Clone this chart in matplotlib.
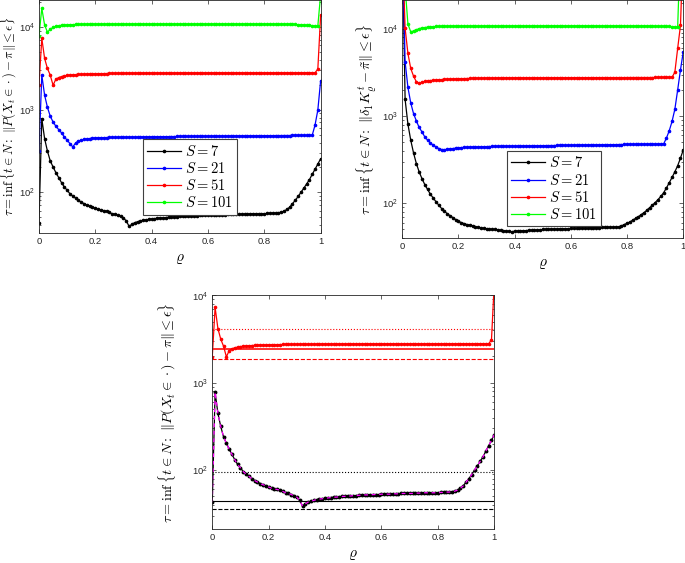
import numpy as np
import matplotlib
matplotlib.use('Agg')
import matplotlib.pyplot as plt
from matplotlib.ticker import LogLocator, NullFormatter

# ---------------- data ----------------
rho = np.linspace(0, 1, 101)
xticks = [0, 0.2, 0.4, 0.6, 0.8, 1]
xticklabels = ['0', '0.2', '0.4', '0.6', '0.8', '1']
labels = [r'$S=7$', r'$S=21$', r'$S=51$', r'$S=101$']
colors = ['#000000', '#0000ff', '#ff0000', '#00ff00']

# Top-left panel: tau for ||P(X_t in .) - pi|| <= eps
s7_a = [43, 780, 446, 316, 240, 203, 173, 151, 131, 116,
        106, 96, 90, 85, 80, 76, 73, 70, 68, 66,
        64, 62, 61, 60, 59, 57, 55, 54, 52.5, 51,
        49, 45, 38.7, 41, 43, 44, 45, 46, 46.5, 47,
        47.5, 48, 48.5, 49, 49, 49.5, 50, 50, 50.5, 50.5,
        51, 51, 51.5, 51.5, 52, 52, 52, 52.5, 52.5, 52.5,
        53, 53, 53, 53, 53.5, 53.5, 53.5, 54, 54, 54,
        54, 54, 54.5, 54.5, 54.5, 55, 55, 55, 55, 55,
        55, 55.5, 55.5, 56, 56, 56.5, 57.5, 59, 62, 66,
        73, 80, 89, 100, 112, 126, 142, 165, 190, 220,
        255]
s21_a = [315, 2620, 1500, 1070, 835, 711, 631, 575, 524, 468,
         427, 389, 354, 396, 417, 428, 436, 443, 448, 452,
         455, 457, 458, 459, 460, 461, 462, 462, 463, 463,
         464, 465, 465, 466, 466, 467, 467, 468, 468, 469,
         469, 470, 470, 471, 471, 472, 472, 473, 473, 474,
         474, 475, 475, 475, 476, 476, 476, 477, 477, 477,
         478, 478, 478, 479, 479, 479, 480, 480, 480, 481,
         481, 481, 482, 482, 482, 483, 483, 483, 484, 484,
         484, 485, 485, 485, 486, 486, 486, 487, 487, 487,
         488, 488, 488, 488, 488, 488, 489, 490, 650, 990,
         2250]
s51_a = [1980, 7300, 4170, 3160, 2620, 1980, 2340, 2450, 2520, 2560,
         2600, 2620, 2640, 2655, 2670, 2680, 2690, 2700, 2710, 2715,
         2720, 2725, 2730, 2735, 2740, 2745, 2750, 2750, 2755, 2755,
         2760, 2760, 2765, 2765, 2770, 2770, 2770, 2775, 2775, 2775,
         2780, 2780, 2780, 2780, 2780, 2780, 2780, 2780, 2780, 2780,
         2785, 2785, 2785, 2785, 2785, 2785, 2785, 2785, 2785, 2785,
         2790, 2790, 2790, 2790, 2790, 2790, 2790, 2790, 2790, 2790,
         2790, 2790, 2790, 2790, 2790, 2790, 2790, 2790, 2790, 2790,
         2795, 2795, 2795, 2795, 2795, 2795, 2795, 2795, 2795, 2795,
         2795, 2795, 2795, 2800, 2800, 2800, 2800, 2800, 2800, 3100,
         14000]
s101_a = [7800, 16900, 10600, 8700, 9400, 9900, 10200, 10400, 10500, 10600,
          10650, 10700, 10700, 10750, 10750, 10800, 10800, 10800, 10850, 10850,
          10850, 10850, 10850, 10850, 10850, 10850, 10850, 10850, 10850, 10850,
          10850, 10850, 10850, 10850, 10850, 10850, 10850, 10850, 10850, 10850,
          10850, 10850, 10850, 10850, 10850, 10850, 10850, 10850, 10850, 10850,
          10850, 10850, 10850, 10850, 10850, 10850, 10850, 10850, 10850, 10850,
          10850, 10850, 10850, 10850, 10850, 10850, 10850, 10850, 10850, 10850,
          10850, 10850, 10850, 10850, 10850, 10850, 10850, 10850, 10850, 10850,
          10850, 10850, 10850, 10850, 10850, 10850, 10850, 10850, 10850, 10850,
          10800, 10750, 10700, 10650, 10600, 10550, 10500, 10400, 10300, 10300,
          25000]

# Top-right panel: tau for ||delta_1 K^t - pi~|| <= eps
s7_b = [1e5, 1555, 810, 530, 378, 286, 229, 192, 164, 144,
        127, 115, 104, 95, 87, 81, 76, 72, 68.5, 65,
        62, 60, 58.5, 57, 56, 55, 54, 53, 52, 51.5,
        51, 50.5, 50, 50, 49.5, 49, 48.5, 48, 47.5, 47,
        48, 48, 48, 48.5, 48.5, 49, 49, 49, 49.5, 49.5,
        50, 50, 50, 50.5, 50.5, 50.5, 51, 51, 51, 51,
        51.5, 51.5, 51.5, 52, 52, 52, 52, 52.5, 52.5, 52.5,
        52.5, 53, 53, 53, 53, 53, 53.5, 53.5, 55, 57,
        59, 61, 64, 67, 70, 74, 78, 83, 89, 95,
        102, 110, 120, 132, 150, 172, 198, 230, 270, 330,
        410]
s21_b = [1e5, 4200, 2140, 1420, 1070, 883, 741, 661, 578, 530,
         493, 464, 444, 425, 414, 412, 417, 421, 425, 429,
         433, 436, 438, 440, 441, 442, 443, 444, 445, 446,
         447, 448, 449, 450, 450, 451, 451, 452, 452, 453,
         453, 454, 454, 455, 455, 456, 456, 457, 457, 458,
         458, 459, 459, 460, 460, 461, 461, 462, 462, 463,
         463, 464, 464, 465, 465, 466, 466, 467, 467, 468,
         468, 469, 469, 470, 470, 471, 471, 472, 472, 473,
         473, 474, 474, 475, 475, 476, 476, 477, 477, 478,
         478, 479, 479, 480, 560, 680, 870, 1200, 2000, 3400,
         5500]
s51_b = [1e5, 10200, 5250, 3530, 2880, 2480, 2375, 2450, 2500, 2530,
         2560, 2580, 2600, 2615, 2630, 2640, 2650, 2660, 2670, 2680,
         2690, 2695, 2700, 2705, 2710, 2715, 2720, 2725, 2730, 2730,
         2735, 2735, 2740, 2740, 2745, 2745, 2750, 2750, 2750, 2755,
         2755, 2755, 2755, 2755, 2755, 2755, 2755, 2755, 2755, 2755,
         2760, 2760, 2760, 2760, 2760, 2760, 2760, 2760, 2760, 2760,
         2765, 2765, 2765, 2765, 2765, 2765, 2765, 2765, 2765, 2765,
         2770, 2770, 2770, 2770, 2770, 2770, 2770, 2770, 2770, 2770,
         2775, 2775, 2775, 2775, 2775, 2775, 2775, 2775, 2775, 2775,
         2780, 2780, 2785, 2785, 2790, 2790, 2795, 3200, 6000, 11000,
         1e5]
s101_b = [1e5, 3e4, 11400, 9300, 9500, 9800, 10100, 10300, 10400, 10500,
          10600, 10650, 10700, 10700, 10750, 10750, 10750, 10800, 10800, 10800,
          10800, 10800, 10800, 10800, 10800, 10800, 10800, 10800, 10800, 10800,
          10820, 10820, 10820, 10820, 10820, 10820, 10820, 10820, 10820, 10820,
          10840, 10840, 10840, 10840, 10840, 10840, 10840, 10840, 10840, 10840,
          10850, 10850, 10850, 10850, 10850, 10850, 10850, 10850, 10850, 10850,
          10850, 10850, 10850, 10850, 10850, 10850, 10850, 10850, 10850, 10850,
          10850, 10850, 10850, 10850, 10850, 10850, 10850, 10850, 10850, 10850,
          10840, 10840, 10840, 10840, 10840, 10840, 10840, 10840, 10840, 10840,
          10800, 10800, 10750, 10750, 10700, 10700, 10650, 10600, 10500, 1e5,
          1e5]

# Bottom panel: bounds (dotted / solid / dashed) for S=7 (black) and S=51 (red)
bounds_black = [95, 44, 36]
bounds_red = [4140, 2440, 1870]
bound_styles = [':', '-', '--']

# ---------------- figure ----------------
plt.rcParams['mathtext.fontset'] = 'cm'
plt.rcParams['font.family'] = ['Liberation Sans', 'DejaVu Sans']

fig = plt.figure(figsize=(6.85, 5.63), dpi=100)
ax1 = fig.add_axes([0.0569, 0.5856, 0.4112, 0.4144])
ax2 = fig.add_axes([0.5873, 0.5767, 0.4102, 0.4233])
ax3 = fig.add_axes([0.3099, 0.0599, 0.4117, 0.4153])


def style(ax, ylim):
    ax.set_yscale('log')
    ax.set_xlim(0, 1)
    ax.set_ylim(*ylim)
    ax.set_xticks(xticks)
    ax.set_xticklabels(xticklabels)
    ax.yaxis.set_major_locator(LogLocator(base=10, numticks=10))
    ax.yaxis.set_minor_locator(LogLocator(base=10, subs=np.arange(2, 10), numticks=10))
    ax.yaxis.set_minor_formatter(NullFormatter())
    ax.tick_params(which='both', direction='in', top=True, right=True,
                   labelsize=6.8, pad=3, colors='#262626', width=0.5)
    ax.tick_params(which='major', length=3)
    ax.tick_params(which='minor', length=1.6)
    for sp in ax.spines.values():
        sp.set_linewidth(0.6)
        sp.set_color('#262626')
    ax.set_xlabel(r'$\varrho$', fontsize=11)


series_a = [s7_a, s21_a, s51_a, s101_a]
series_b = [s7_b, s21_b, s51_b, s101_b]

for ax, series in ((ax1, series_a), (ax2, series_b)):
    for vals, c, lab in zip(series, colors, labels):
        ax.plot(rho, vals, '-', color=c, lw=0.9, marker='o', ms=1.6,
                mec=c, mfc=c, label=lab)

style(ax1, (31.9, 21270))
style(ax2, (39.6, 21540))
style(ax3, (21.0, 10000))

leg_kw = dict(loc='upper left', fontsize=10.5, frameon=True, fancybox=False,
              edgecolor='#404040', borderaxespad=0, handlelength=2.3,
              handletextpad=0.3, borderpad=0.3, labelspacing=0.15, framealpha=1)
l1 = ax1.legend(bbox_to_anchor=(0.368, 0.403), **leg_kw)
l2 = ax2.legend(bbox_to_anchor=(0.3715, 0.366), **leg_kw)
for lg in (l1, l2):
    lg.get_frame().set_linewidth(0.8)

ylab_fs = 10.2
ax1.set_ylabel(r'$\tau=\inf\{t\in N:\ \|P(X_t\in\cdot)-\pi\|\leq\epsilon\}$', fontsize=9.2)
ax2.set_ylabel(r'$\tau=\inf\{t\in N:\ \|\delta_1 K_\varrho^t-\tilde{\pi}\|\leq\epsilon\}$', fontsize=ylab_fs)
ax3.set_ylabel(r'$\tau=\inf\{t\in N:\ \|P(X_t\in\cdot)-\pi\|\leq\epsilon\}$', fontsize=ylab_fs)
ax1.yaxis.set_label_coords(-0.071, 0.5)
ax2.yaxis.set_label_coords(-0.083, 0.5)
ax3.yaxis.set_label_coords(-0.122, 0.5)

# bottom panel
for v, ls in zip(bounds_black, bound_styles):
    ax3.axhline(v, color='k', ls=ls, lw=0.8)
for v, ls in zip(bounds_red, bound_styles):
    ax3.axhline(v, color='#ff3030' if ls == '-' else 'r', ls=ls,
                lw=1.4 if ls == '-' else 0.8)
ax3.plot(rho, s51_a, '-', color='r', lw=0.9, marker='o', ms=1.6)
ax3.plot(rho, s7_a, '-', color='k', lw=0.9, marker='o', ms=1.8)
ax3.plot(rho, s7_a, '--', color='#ff00ff', lw=0.9, dashes=(3, 3))

fig.savefig('out.png', dpi=100)
